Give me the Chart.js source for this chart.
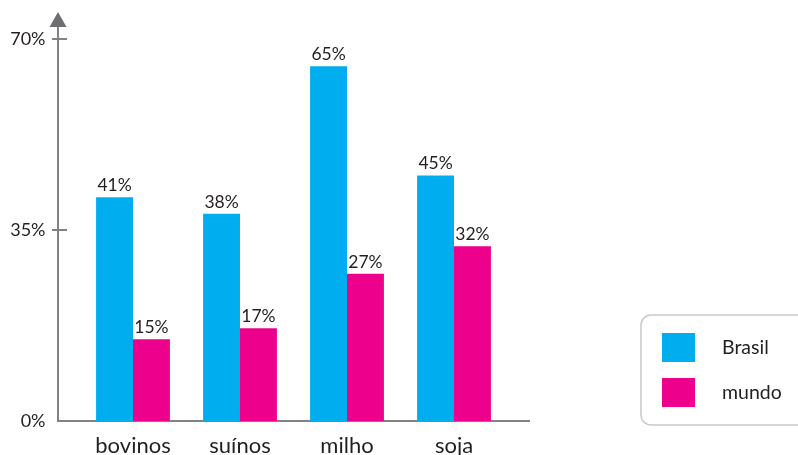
<!DOCTYPE html>
<html>
<head>
<meta charset="utf-8">
<script src="https://cdn.jsdelivr.net/npm/chart.js@4/dist/chart.umd.min.js"></script>
<style>
  html, body { margin: 0; padding: 0; background: #fff; }
  #wrap { width: 798px; height: 455px; position: relative; }
</style>
</head>
<body>
<div id="wrap"><canvas id="chart-1"></canvas></div>
<script>
// donnees du graphique
const categories = ["bovinos", "suínos", "milho", "soja"];
const brasilValues = [41, 38, 65, 45];
const mundoValues = [15, 17, 27, 32];
const yTicks = [0, 35, 70];

const seriesLabels = ["Brasil", "mundo"];
const seriesColors = ["#00aeef", "#ec008c"];

const FONT = "Lato, 'Open Sans', sans-serif";
const AXIS_COLOR = "#808285";

// axes dessines a la main (fleche, graduations, ligne de base)
const axesPlugin = {
    id: "axes",
    beforeDatasetsDraw(chart) {
        const ctx = chart.ctx;
        const y = chart.scales.y;
        const axisX = 58;
        const base = y.getPixelForValue(0);
        ctx.save();
        ctx.strokeStyle = AXIS_COLOR;
        ctx.lineWidth = 2;
        ctx.beginPath();
        ctx.moveTo(axisX, base);
        ctx.lineTo(axisX, 24);
        ctx.moveTo(axisX - 1, base);
        ctx.lineTo(530, base);
        yTicks.forEach(function(v) {
            if (v === 0) return;
            const py = Math.round(y.getPixelForValue(v));
            ctx.moveTo(axisX - 6, py);
            ctx.lineTo(axisX + 9, py);
        });
        ctx.stroke();
        ctx.fillStyle = "#6d6e71";
        ctx.beginPath();
        ctx.moveTo(axisX, 12);
        ctx.lineTo(axisX + 8.5, 27);
        ctx.lineTo(axisX - 8.5, 27);
        ctx.closePath();
        ctx.fill();
        ctx.restore();
    },
    afterDatasetsDraw(chart) {
        // valeurs au-dessus des barres
        const ctx = chart.ctx;
        ctx.save();
        ctx.fillStyle = "#231f20";
        ctx.font = "17.5px " + FONT;
        ctx.textAlign = "center";
        ctx.textBaseline = "alphabetic";
        chart.data.datasets.forEach(function(ds, i) {
            chart.getDatasetMeta(i).data.forEach(function(bar, j) {
                ctx.fillText(ds.data[j] + "%", bar.x, bar.y - 6);
            });
        });
        ctx.restore();

        // legende encadree
        const bx = 641, by = 315, bw = 170, bh = 110;
        ctx.save();
        ctx.strokeStyle = "#c7c8ca";
        ctx.lineWidth = 1.5;
        ctx.beginPath();
        ctx.roundRect(bx, by, bw, bh, 10);
        ctx.stroke();
        ctx.font = "19.5px " + FONT;
        ctx.textAlign = "left";
        ctx.textBaseline = "middle";
        seriesLabels.forEach(function(lbl, i) {
            const sy = 333 + i * 45;
            ctx.fillStyle = seriesColors[i];
            ctx.fillRect(662, sy, 33, 29);
            ctx.fillStyle = "#231f20";
            ctx.fillText(lbl, 722, sy + 15);
        });
        ctx.restore();
    }
};

const dataChart = {
    labels: categories,
    datasets: [{
        label: seriesLabels[0],
        data: brasilValues,
        backgroundColor: seriesColors[0],
        barPercentage: 1,
        categoryPercentage: 0.69
    }, {
        label: seriesLabels[1],
        data: mundoValues,
        backgroundColor: seriesColors[1],
        barPercentage: 1,
        categoryPercentage: 0.69
    }]
};

const configChart = {
    type: "bar",
    data: dataChart,
    plugins: [axesPlugin],
    options: {
        responsive: true,
        maintainAspectRatio: false,
        animation: false,
        layout: {
            padding: { top: 39, right: 290.5, left: 0, bottom: 0 }
        },
        plugins: {
            legend: { display: false },
            tooltip: { enabled: false }
        },
        scales: {
            x: {
                grid: { display: false },
                border: { display: false },
                ticks: {
                    color: "#231f20",
                    font: { family: FONT, size: 22 },
                    padding: 4
                },
                afterFit: function(scale) {
                    scale.height = 34;
                    scale.paddingLeft = 0;
                    scale.paddingRight = 0;
                }
            },
            y: {
                min: 0,
                max: 70,
                afterBuildTicks: function(scale) {
                    scale.ticks = yTicks.map(function(v) { return { value: v }; });
                },
                grid: { display: false },
                border: { display: false },
                ticks: {
                    color: "#231f20",
                    font: { family: FONT, size: 18 },
                    padding: 26,
                    callback: function(v) { return v + "%"; }
                },
                afterFit: function(scale) {
                    scale.width = 79.5;
                    scale.paddingTop = 0;
                    scale.paddingBottom = 0;
                }
            }
        }
    }
};

const chart = new Chart(document.getElementById("chart-1"), configChart);
</script>
</body>
</html>
